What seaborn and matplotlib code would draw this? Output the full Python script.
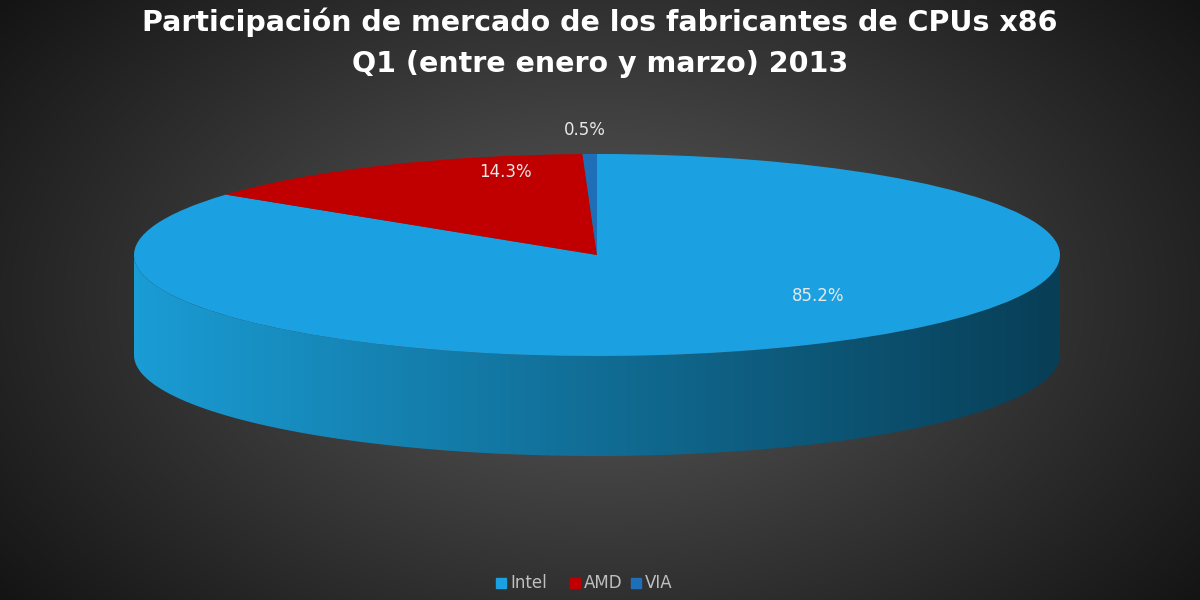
import numpy as np
import matplotlib
matplotlib.use("Agg")
import matplotlib.pyplot as plt
import seaborn as sns
from matplotlib.patches import Polygon

labels = ["Intel", "AMD", "VIA"]
values = [85.2, 14.3, 0.5]
colors = ["#1ba1e2", "#c00000", "#1f6fb8"]
label_pos = [(818, 296), (505, 172), (585, 130)]

sns.set_theme(style="white")
W, H = 1200, 600
fig = plt.figure(figsize=(12, 6), dpi=100)

bg = fig.add_axes([0, 0, 1, 1])
yy, xx = np.mgrid[0:H, 0:W]
d = np.sqrt(((xx - 600) / 700) ** 2 + ((yy - 300) / 450) ** 2)
g = np.clip(0.36 - 0.26 * d, 0.08, 0.4)
bg.imshow(np.dstack([g, g, g]), extent=[0, W, H, 0], aspect="auto")
bg.axis("off")

ax = fig.add_axes([0, 0, 1, 1])
cx, cy, rx, ry, depth = 597, 255, 463, 101, 100
s = rx / ry

def Y(py):
    return (H - py) * s

t = np.linspace(np.pi, 2 * np.pi, 200)
top = [(cx + rx * np.cos(a), Y(cy - ry * np.sin(a))) for a in t]
bot = [(cx + rx * np.cos(a), Y(cy + depth - ry * np.sin(a))) for a in t[::-1]]
poly = Polygon(top + bot, closed=True, facecolor="none", edgecolor="none")
ax.add_patch(poly)
grad = np.linspace(0, 1, 256)[None, :]
c0 = np.array([0x1a, 0x9c, 0xd4]) / 255
c1 = np.array([0x08, 0x3e, 0x56]) / 255
img = c0[None, None, :] * (1 - grad[..., None]) + c1[None, None, :] * grad[..., None]
im = ax.imshow(img, extent=[cx - rx, cx + rx, Y(cy + depth + ry + 5), Y(cy - 5)], aspect="auto", zorder=1)
im.set_clip_path(poly)

ax.pie(values, colors=colors, startangle=90, counterclock=False, radius=rx,
       center=(cx, Y(cy)), frame=True, wedgeprops=dict(linewidth=0, zorder=2))
ax.set_xlim(0, W)
ax.set_ylim(0, H * s)
ax.set_aspect("auto")
ax.axis("off")

for v, (px, py) in zip(values, label_pos):
    ax.text(px, Y(py), f"{v}%", color="#e8e8e8", fontsize=12, ha="center", va="center",
            family="DejaVu Sans", zorder=5)

fig.text(0.5, 1 - 22 / H, "Participación de mercado de los fabricantes de CPUs x86",
         color="white", fontsize=20.5, fontweight="bold", ha="center", va="center")
fig.text(0.5, 1 - 64 / H, "Q1 (entre enero y marzo) 2013",
         color="white", fontsize=20.5, fontweight="bold", ha="center", va="center")

lx = [496, 570, 631]
for x, lab, c in zip(lx, labels, colors):
    fig.patches.append(matplotlib.patches.Rectangle((x / W, 1 - 588 / H), 10 / W, 10 / H,
                       transform=fig.transFigure, color=c))
    fig.text((x + 14) / W, 1 - 583 / H, lab, color="#bfbfbf", fontsize=12, va="center")

fig.savefig("out.png", dpi=100, facecolor="#1a1a1a")
